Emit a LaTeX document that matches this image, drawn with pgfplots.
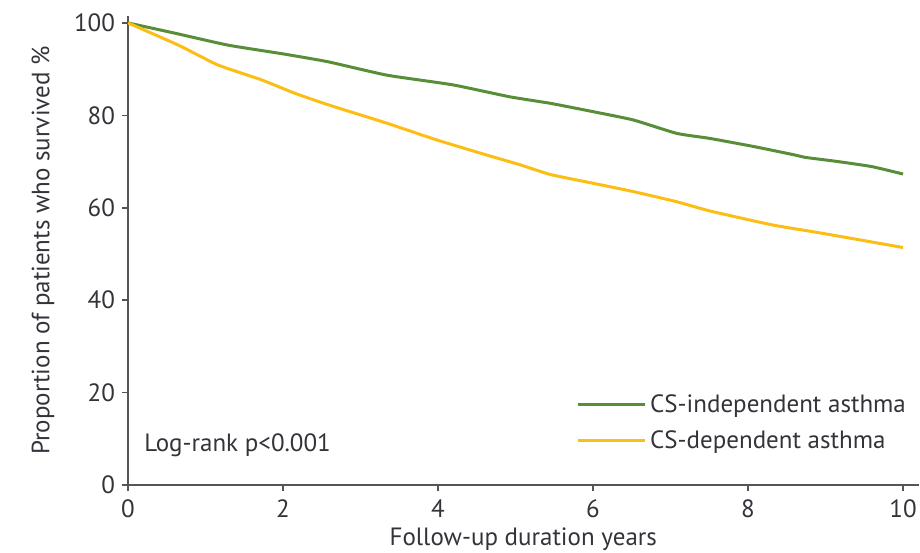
\documentclass[border=0pt]{standalone}
\usepackage{pgfplots}
\pgfplotsset{compat=1.18}
\usepackage{fontspec}
\setmainfont{PT Sans}
\definecolor{cgreen}{RGB}{88,142,56}
\definecolor{cyellow}{RGB}{252,190,20}
\definecolor{axgray}{RGB}{85,85,85}
\definecolor{txt}{RGB}{50,52,58}
\begin{document}
\begin{tikzpicture}
\path[use as bounding box] (-64pt,-33.5pt) rectangle (396pt,242.5pt);
\begin{axis}[
  at={(0,0)}, anchor=south west,
  scale only axis,
  width=395.25pt, height=234.5pt,
  xmin=0, xmax=10.2, ymin=0, ymax=101.5,
  axis lines=left,
  axis line style={-, draw=axgray, line width=0.8pt},
  tick style={draw=axgray, line width=0.8pt},
  tick align=outside,
  major tick length=3pt,
  xtick={0,2,...,10}, ytick={0,20,...,100},
  /pgf/number format/assume math mode=true,
  ticklabel style={font=\fontsize{12.5}{15}\selectfont, text=txt},
  xticklabel style={yshift=-1pt},
  label style={font=\fontsize{12.5}{15}\selectfont, text=txt},
  xlabel={Follow-up duration years},
  ylabel={Proportion of patients who survived \%},
  xlabel style={yshift=2pt},
  ylabel style={yshift=3pt},
  legend style={draw=none, fill=none, at={(axis cs:5.7,21.4)}, anchor=north west,
    font=\fontsize{12.5}{15}\selectfont, text=txt, row sep=3.5pt},
  legend cell align=left,
  legend image code/.code={\path (0pt,0pt) -- (33.5pt,0pt);\draw[#1] (0pt,0pt) -- (30pt,0pt);},
]
\addplot[cgreen, line width=1.5pt, smooth, tension=0.3] coordinates {
(0,100) (0.6,97.8) (1.29,95.2) (2,93.3) (2.58,91.6) (3.34,88.7) (4.19,86.6)
(4.93,84.0) (5.45,82.6) (6.0,80.8) (6.52,79.0) (7.08,76.1) (7.51,75.0)
(8.09,73.2) (8.61,71.4) (8.74,70.9) (9.16,70.0) (9.6,68.9) (10,67.3)
};
\addlegendentry{CS-independent asthma}
\addplot[cyellow, line width=1.5pt, smooth, tension=0.3] coordinates {
(0,100) (0.65,95.2) (1.16,90.9) (1.72,87.7) (2.15,84.8) (2.58,82.3) (3.34,78.3)
(3.98,74.7) (4.63,71.4) (5.06,69.3) (5.45,67.2) (6.0,65.3) (6.52,63.5)
(7.08,61.3) (7.51,59.3) (8.31,56.3) (8.95,54.5) (10,51.4)
};
\addlegendentry{CS-dependent asthma}
\node[anchor=west, font=\fontsize{12.5}{15}\selectfont, text=txt] at (axis cs:0.12,8.7) {Log-rank p<0.001};
\end{axis}
\end{tikzpicture}
\end{document}
